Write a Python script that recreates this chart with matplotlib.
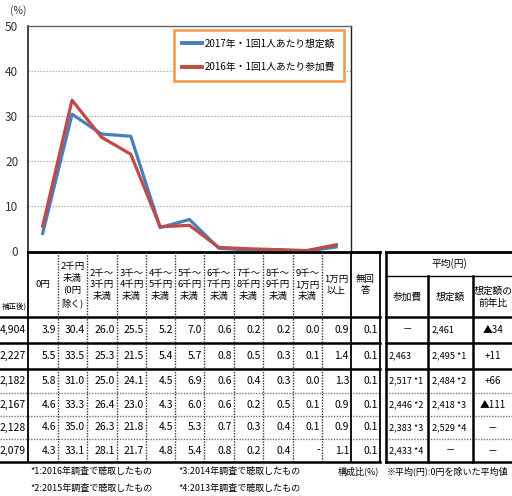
import matplotlib
matplotlib.use("Agg")
import matplotlib.pyplot as plt

plt.rcParams['font.family'] = ['Noto Sans CJK JP', 'DejaVu Sans']

# ---------------- data ----------------
categories = ["0円", "2千円\n未満\n(0円\n除く)", "2千～\n3千円\n未満", "3千～\n4千円\n未満",
              "4千～\n5千円\n未満", "5千～\n6千円\n未満", "6千～\n7千円\n未満", "7千～\n8千円\n未満",
              "8千～\n9千円\n未満", "9千～\n1万円\n未満", "1万円\n以上", "無回\n答"]
series_2017 = [3.9, 30.4, 26.0, 25.5, 5.2, 7.0, 0.6, 0.2, 0.2, 0.0, 0.9, 0.1]
series_2016 = [5.5, 33.5, 25.3, 21.5, 5.4, 5.7, 0.8, 0.5, 0.3, 0.1, 1.4, 0.1]
row_2015 = [5.8, 31.0, 25.0, 24.1, 4.5, 6.9, 0.6, 0.4, 0.3, 0.0, 1.3, 0.1]
row_2014 = [4.6, 33.3, 26.4, 23.0, 4.3, 6.0, 0.6, 0.2, 0.5, 0.1, 0.9, 0.1]
row_2013 = [4.6, 35.0, 26.3, 21.8, 4.5, 5.3, 0.7, 0.3, 0.4, 0.1, 0.9, 0.1]
row_2012 = [4.3, 33.1, 28.1, 21.7, 4.8, 5.4, 0.8, 0.2, 0.4, None, 1.1, 0.1]
table_rows = [series_2017, series_2016, row_2015, row_2014, row_2013, row_2012]
sample_n = ["4,904", "2,227", "2,182", "2,167", "2,128", "2,079"]
avg_fee = ["－", "2,463", "2,517 *1", "2,446 *2", "2,383 *3", "2,433 *4"]
avg_expected = ["2,461", "2,495 *1", "2,484 *2", "2,418 *3", "2,529 *4", "－"]
avg_change = ["▲34", "+11", "+66", "▲111", "－", "－"]
legend_labels = ["2017年・1回1人あたり想定額", "2016年・1回1人あたり参加費"]
yticks = [0, 10, 20, 30, 40, 50]
footnotes = ["*1:2016年調査で聴取したもの", "*2:2015年調査で聴取したもの",
             "*3:2014年調査で聴取したもの", "*4:2013年調査で聴取したもの"]

BLUE = "#4a7ebb"
RED = "#be4b48"

W, H = 512, 496
fig = plt.figure(figsize=(W / 100, H / 100), dpi=100)

# ---------------- chart ----------------
cx0, cx1, cy0, cy1 = 28, 351, 26, 251
ax = fig.add_axes([cx0 / W, 1 - cy1 / H, (cx1 - cx0) / W, (cy1 - cy0) / H])
n_line = 11
xs = list(range(n_line))
ax.plot(xs, series_2017[:n_line], color=BLUE, lw=2.3, label=legend_labels[0], zorder=3)
ax.plot(xs, series_2016[:n_line], color=RED, lw=2.3, label=legend_labels[1], zorder=4)
ax.set_xlim(-0.5, n_line - 0.5)
ax.set_ylim(0, 50)
ax.set_yticks(yticks)
ax.set_yticklabels([str(v) for v in yticks], fontsize=8.5, color="#333333")
ax.tick_params(axis='y', length=0, pad=7)
ax.set_xticks([])
for y in yticks[1:-1]:
    ax.axhline(y, color="#b0b0b0", lw=0.9, ls=(0, (1.2, 1.2)), zorder=1)
ax.spines['left'].set_color("#222222")
ax.spines['left'].set_linewidth(1.2)
ax.spines['top'].set_color("#666666")
ax.spines['top'].set_linewidth(1.0)
ax.spines['right'].set_color("#222222")
ax.spines['right'].set_linewidth(1.0)
ax.spines['bottom'].set_visible(False)
leg = ax.legend(loc='upper right', bbox_to_anchor=(0.978, 0.982), borderaxespad=0,
                fontsize=7, handlelength=2.0, handletextpad=0.3, labelspacing=1.35,
                borderpad=0.9, fancybox=False, framealpha=1)
leg.get_frame().set_edgecolor("#f79646")
leg.get_frame().set_linewidth(1.8)
for line in leg.get_lines():
    line.set_linewidth(2.8)

# ---------------- table overlay ----------------
ov = fig.add_axes([0, 0, 1, 1])
ov.set_xlim(0, W)
ov.set_ylim(H, 0)
ov.axis('off')
ov.text(18, 11, "(%)", ha='center', va='center', fontsize=7.5, color="#333333")

col_edges = [28, 58, 87, 117, 146, 175, 204, 234, 263, 293, 322, 351, 380]
row_edges = [252, 317, 343, 369, 393, 416, 439, 462]
ytop, ybot = row_edges[0], row_edges[-1]

# horizontal lines, left table
ov.plot([28, 380], [ytop, ytop], color="black", lw=2.0)
for i, y in enumerate(row_edges[1:], start=1):
    if i in (1, 2, 3, 7):
        ov.plot([0, 380], [y, y], color="black", lw=1.8)
    else:
        ov.plot([0, 380], [y, y], color="#777777", lw=1.0, ls=(0, (1, 1)))
# vertical lines, left table
for j, x in enumerate(col_edges):
    if j in (0, len(col_edges) - 2, len(col_edges) - 1):
        ov.plot([x, x], [ytop, ybot], color="black", lw=1.3)
    else:
        ov.plot([x, x], [ytop, ybot], color="#333333", lw=1.0, ls=(0, (1, 1)))

# headers
for j, lab in enumerate(categories):
    xc = (col_edges[j] + col_edges[j + 1]) / 2
    ov.text(xc, 285, lab, ha='center', va='center', fontsize=6.8, linespacing=1.4)
ov.text(1.5, 308, "補正後)", ha='left', va='center', fontsize=5.4)

# data cells
for r, vals in enumerate(table_rows):
    yc = (row_edges[r + 1] + row_edges[r + 2]) / 2
    ov.text(26, yc, sample_n[r], ha='right', va='center', fontsize=7.5)
    for j, v in enumerate(vals):
        s = "-" if v is None else f"{v:.1f}"
        ov.text(col_edges[j + 1] - 2, yc, s, ha='right', va='center', fontsize=7.5)

# right table (averages)
rx = [386, 428, 473, 512]
ov.plot([386, 512], [ytop, ytop], color="black", lw=2.0)
ov.plot([386, 512], [276, 276], color="black", lw=1.0)
for i, y in enumerate(row_edges[1:], start=1):
    if i in (1, 2, 3, 7):
        ov.plot([386, 512], [y, y], color="black", lw=1.8)
    else:
        ov.plot([386, 512], [y, y], color="#777777", lw=1.0, ls=(0, (1, 1)))
ov.plot([386, 386], [ytop, ybot], color="black", lw=1.8)
for x in rx[1:3]:
    ov.plot([x, x], [276, ybot], color="black", lw=1.8)
ov.text(449, 264, "平均(円)", ha='center', va='center', fontsize=7)
ov.text(407, 297, "参加費", ha='center', va='center', fontsize=7)
ov.text(450, 297, "想定額", ha='center', va='center', fontsize=7)
ov.text(493, 297, "想定額の\n前年比", ha='center', va='center', fontsize=7, linespacing=1.3)
for r in range(len(table_rows)):
    yc = (row_edges[r + 1] + row_edges[r + 2]) / 2
    if avg_fee[r] == "－":
        ov.text(407, yc, avg_fee[r], ha='center', va='center', fontsize=6.8)
    else:
        ov.text(389, yc, avg_fee[r], ha='left', va='center', fontsize=6.6)
    if avg_expected[r] == "－":
        ov.text(450, yc, avg_expected[r], ha='center', va='center', fontsize=6.8)
    else:
        ov.text(432, yc, avg_expected[r], ha='left', va='center', fontsize=6.6)
    ov.text(493, yc, avg_change[r], ha='center', va='center', fontsize=7)

# footnotes
ov.text(30, 471, footnotes[0], ha='left', va='center', fontsize=6.5)
ov.text(30, 488, footnotes[1], ha='left', va='center', fontsize=6.5)
ov.text(178, 471, footnotes[2], ha='left', va='center', fontsize=6.5)
ov.text(178, 488, footnotes[3], ha='left', va='center', fontsize=6.5)
ov.text(379, 471, "構成比(%)", ha='right', va='center', fontsize=6.5)
ov.text(387, 471, "※平均(円):0円を除いた平均値", ha='left', va='center', fontsize=6.5)

fig.savefig("out.png", dpi=100)
